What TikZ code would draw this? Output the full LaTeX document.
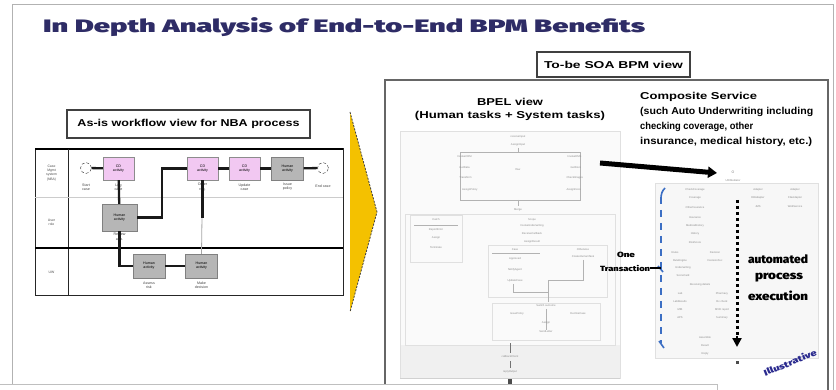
\documentclass[tikz,border=0pt]{standalone}
\usepackage{fontspec}
\usepackage{graphicx}
\setmainfont{Liberation Sans}
\newfontfamily\heavy{Fira Sans Black}
\newfontfamily\semiheavy{Liberation Sans Bold}
\usetikzlibrary{arrows.meta,calc}
\definecolor{titleblue}{HTML}{2E2C66}
\definecolor{pinkfill}{HTML}{F2C8F2}
\definecolor{grayfill}{HTML}{B6B6B6}
\definecolor{chevyellow}{HTML}{F4C100}
\definecolor{dashblue}{HTML}{3C6FC4}
\definecolor{stampblue}{HTML}{2A2A8E}
% stretch a line of text horizontally to a given width
\newcommand\fitw[2]{\resizebox{#1}{\height}{#2}}
\begin{document}
\begin{tikzpicture}[x=1pt,y=-1pt,
  frame/.style={draw=black!30, line width=1pt},
  labelbox/.style={draw=black!75, line width=1.2pt, fill=white, inner sep=0},
  caption/.style={inner sep=0, font=\fontsize{10}{12}\selectfont\semiheavy},
  heavytext/.style={inner sep=0, font=\heavy},
  tinytxt/.style={inner sep=0.3pt, font=\fontsize{3.6}{4.2}\selectfont, text=black!75, align=center},
  lanelbl/.style={inner sep=0.3pt, font=\fontsize{3.4}{4.2}\selectfont, text=black!70, align=center},
  cobox/.style={draw=black!45, fill=pinkfill, minimum width=31, minimum height=23, inner sep=0, font=\fontsize{3.6}{4.2}\selectfont, align=center},
  humbox/.style={draw=black!50, fill=grayfill, minimum width=32, minimum height=24, inner sep=0, font=\fontsize{3.6}{4.2}\selectfont, align=center},
  event/.style={circle, draw=black!80, densely dashed, fill=white, minimum size=11, inner sep=0},
  flow/.style={draw=black!90, line width=2.3pt},
  thinflow/.style={draw=black!35, line width=0.8pt},
  bt/.style={inner sep=0.3pt, font=\fontsize{2.7}{3.2}\selectfont, text=black!45},
  bline/.style={draw=black!30, line width=0.45pt},
  panel/.style={draw=black!12, line width=0.6pt}]
\useasboundingbox (0,0) rectangle (836,390);
\fill[white] (0,0) rectangle (836,390);

% slide frame
\draw[frame] (12,384) -- (12,5) -- (833,5) -- (833,392);

% title
\node[anchor=base west, inner sep=0, text=titleblue] (title) at (43,33)
  {\fitw{602pt}{\fontsize{18}{20}\selectfont\heavy In Depth Analysis of End-to-End BPM Benefits}};

% ---------------- as-is workflow ----------------
\node[labelbox, minimum width=243, minimum height=28] (asisbox) at (188.5,124) {};
\node[caption] (asis) at (asisbox.center) {\fitw{222pt}{As-is workflow view for NBA process}};

% swimlane grid
\draw[black!85, line width=1pt] (35,149) rectangle (343,296);
\draw[black, line width=1.8pt] (35,149) -- (343,149);
\draw[black!85, line width=1pt] (68,149) -- (68,296);
\draw[black!20, line width=0.8pt] (35,197) -- (343,197);
\draw[black, line width=1.5pt] (35,248) -- (343,248);

\node[lanelbl] (lane1) at (51.5,173) {Case\\ Mgmt\\ system\\ (NBA)};
\node[lanelbl] (lane2) at (51.5,222) {User\\ role};
\node[lanelbl] (lane3) at (51.5,272) {UW};

% lane 1
\node[event] (start) at (86,168) {};
\node[cobox] (co1) at (118.5,168.5) {CD\\ activity};
\node[cobox] (co2) at (202.5,168.5) {CD\\ activity};
\node[cobox] (co3) at (244.5,168.5) {CD\\ activity};
\node[humbox, minimum height=23] (hum0) at (287.5,168.5) {Human\\ activity};
\node[event] (stop) at (323,168) {};
% lane 2
\node[humbox, minimum width=35, minimum height=27] (hum1) at (119.5,217.5) {Human\\ activity};
% lane 3
\node[humbox] (hum2) at (149,266) {Human\\ activity};
\node[humbox] (hum3) at (201.5,266) {Human\\ activity};

% captions under the activities
\node[tinytxt] (cs) at (86,187) {Start\\ case};
\node[tinytxt] (c1) at (118.5,187) {Log\\ case};
\node[tinytxt] (c2) at (202.5,187) {Order\\ req.};
\node[tinytxt] (c3) at (244.5,187) {Update\\ case};
\node[tinytxt] (c4) at (287.5,187) {Issue\\ policy};
\node[tinytxt] (ce) at (323,186) {End case};
\node[tinytxt] (c5) at (119.5,237) {Review\\ app.};
\node[tinytxt] (c6) at (149,285.5) {Assess\\ risk};
\node[tinytxt] (c7) at (201.5,285.5) {Make\\ decision};

% connectors
\draw[flow] (start) -- (co1);
\draw[flow] (co1) -- (hum1);
\draw[flow] (hum1.east) -- ++(25,0) |- (co2.west);
\draw[flow] (co2) -- (co3);
\draw[flow] (co3) -- (hum0);
\draw[flow] (hum0) -- (stop);
\draw[flow] (hum1.south) |- (hum2.west);
\draw[flow] (hum2) -- (hum3);
\draw[thinflow] (hum3.north) -- (co2.south);
\coordinate (co2drop) at (202.5,218);
\draw[flow] (co2.south) -- (co2drop);

% ---------------- chevron ----------------
\fill[chevyellow] (350,112) -- (377,212) -- (350,312) -- cycle;
\draw[black!75, line width=0.8pt, dash pattern=on 2pt off 1.4pt] (350,112) -- (377,212) -- (350,312);

% ---------------- to-be view ----------------
\draw[black!60, line width=1.8pt] (385,80) rectangle (828,400);
\node[labelbox, minimum width=153, minimum height=25] (tobebox) at (613.5,64.5) {};
\node[caption] (tobe) at (tobebox.center) {\fitw{139pt}{To-be SOA BPM view}};

\node[caption] (bpelt1) at (510,102) {\fitw{66pt}{BPEL view}};
\node[caption] (bpelt2) at (510,115.5) {\fitw{190pt}{(Human tasks + System tasks)}};

\node[caption, anchor=west] (cs1) at (640,97) {\fitw{117pt}{Composite Service}};
\node[caption, anchor=west] (cs2) at (640,112) {\fitw{173pt}{(such Auto Underwriting including}};
\node[caption, anchor=west] (cs3) at (640,127) {\fitw{113pt}{checking coverage, other}};
\node[caption, anchor=west] (cs4) at (640,142) {\fitw{172pt}{insurance, medical history, etc.)}};

% BPEL process panel
\fill[black!2] (400,131) rectangle (620,378);
\fill[black!6] (400,345) rectangle (620,378);
\draw[panel] (400,131) rectangle (620,378);
\draw[black!18, line width=0.6pt] (400,378) -- (620,378);

\node[bt] (b0) at (518,137) {receiveInput};
\node[bt] (b1) at (518,145) {AssignInput};
\draw[bline] (518,148) -- (518,152);
\draw[bline] (460,152) rectangle (580,200);
\node[bt, anchor=east] (bl1) at (472,157) {InvokeCRM};
\node[bt, anchor=east] (bl2) at (470,168) {GetData};
\node[bt, anchor=east] (bl3) at (472,178) {Transform};
\node[bt, anchor=east] (bl4) at (478,190) {AssignPolicy};
\node[bt, anchor=west] (br1) at (567,157) {InvokeDMS};
\node[bt, anchor=west] (br2) at (570,168) {GetDocs};
\node[bt, anchor=west] (br3) at (566,178) {CheckImages};
\node[bt, anchor=west] (br4) at (566,190) {AssignDocs};
\node[bt] (bm) at (518,170) {flow};
\draw[bline] (518,200) -- (518,206);
\node[bt] (b2) at (518,210) {Merge};

\draw[panel] (405,214) rectangle (615,345);
\draw[panel] (410,215) rectangle (462,262);
\draw[bline] (414,225) -- (458,225);
\node[bt] (bx0) at (436,220) {Catch};
\node[bt] (bx1) at (436,230) {ReportError};
\node[bt] (bx2) at (436,238) {Assign};
\node[bt] (bx3) at (436,248) {Terminate};
\node[bt] (bc0) at (532,220) {Scope};
\node[bt] (bc1) at (532,226) {InvokeUnderwriting};
\node[bt] (bc2) at (532,234) {ReceiveCallback};
\node[bt] (bc3) at (532,242) {AssignResult};

\draw[panel] (488,245) rectangle (607,297);
\node[bt] (bs0) at (515,250) {Case};
\draw[bline] (492,253) -- (540,253);
\node[bt] (bs1) at (515,259) {Approved};
\node[bt] (bs2) at (515,270) {NotifyAgent};
\node[bt] (bs3) at (515,281) {UpdateCase};
\node[bt] (bs4) at (583,250) {Otherwise};
\node[bt] (bs5) at (583,257) {CreateHumanTask};
\draw[bline] (583,260) -- (583,280) -- (548,280) -- (548,302);
\draw[bline] (513,284) -- (513,292) -- (548,292);

\draw[panel] (492,303) rectangle (600,340);
\node[bt] (bl0) at (546,306) {Switch outcome};
\node[bt] (bq1) at (517,314) {IssuePolicy};
\node[bt] (bq2) at (578,314) {DeclineCase};
\draw[bline] (546,309) -- (546,330);
\node[bt] (bq3) at (546,323) {Assign};
\node[bt] (bq4) at (546,332) {SendLetter};
\draw[black!55, line width=0.6pt] (510,343) -- (510,353);
\node[bt] (bz1) at (510,357) {callbackClient};
\draw[black!55, line width=0.6pt] (510,361) -- (510,368);
\node[bt] (bz2) at (510,372) {replyOutput};

% composite service panel
\fill[black!3] (655,183) rectangle (818,358);
\draw[panel] (655,183) rectangle (818,358);
\node[bt, text=black!60] (m0) at (733,172) {$\circ$};
\node[bt] (m1) at (733,181) {UWMediator};
\node[bt] (ml1) at (695,190) {CheckCoverage};
\node[bt] (ml2) at (695,198) {Coverage};
\node[bt] (ml3) at (695,208) {OtherInsurance};
\node[bt] (ml4) at (695,218) {Insurance};
\node[bt] (ml5) at (695,226) {MedicalHistory};
\node[bt] (ml6) at (695,234) {History};
\node[bt] (ml7) at (695,243) {RiskScore};
\node[bt] (mr1) at (758,190) {Adapter};
\node[bt] (mr2) at (795,190) {Adapter};
\node[bt] (mr3) at (758,198) {DBAdapter};
\node[bt] (mr4) at (795,198) {FileAdapter};
\node[bt] (mr5) at (758,207) {JMS};
\node[bt] (mr6) at (795,207) {WebService};
\node[bt] (mm1) at (675,253) {Rules};
\node[bt] (mm2) at (715,253) {Decision};
\node[bt] (mm3) at (680,261) {RuleEngine};
\node[bt] (mm4) at (715,261) {DecisionSvc};
\node[bt] (mm5) at (683,268) {Underwriting};
\node[bt] (mm6) at (683,276) {ScoreCard};
\node[bt] (mm7) at (700,285) {Receiving details};
\node[bt] (mn1) at (680,294) {Lab};
\node[bt] (mn2) at (722,294) {Pharmacy};
\node[bt] (mn3) at (680,302) {LabResults};
\node[bt] (mn4) at (722,302) {Rx check};
\node[bt] (mn5) at (680,310) {MIB};
\node[bt] (mn6) at (722,310) {MVR report};
\node[bt] (mn7) at (680,318) {APS};
\node[bt] (mn8) at (722,318) {Summary};
\node[bt] (mb1) at (705,338) {Assemble};
\node[bt] (mb2) at (705,346) {Result};
\node[bt] (mb3) at (705,354) {Reply};

% blue transaction boundary
\coordinate (txtop) at (661,197);
\coordinate (txmid) at (661,268);
\coordinate (txbot) at (661,343);
\draw[dashblue, line width=2pt, dash pattern=on 7pt off 6pt] (txtop) -- (txbot);
\draw[dashblue, line width=1.6pt] (661,199) .. controls (661,194) and (662,191) .. (665,188);
\draw[dashblue, line width=1.6pt] (658,266) -- (663,272);
\draw[dashblue, line width=1.6pt] (659,341) -- (664,348);

% big arrow from BPEL to the composite service
\coordinate (bpelout) at (600,163);
\coordinate (csin) at (717,173);
\draw[black, line width=5pt, -{Triangle[length=9pt,width=11pt]}] (bpelout) -- (csin);

% one transaction label
\node[heavytext] (one) at (626,255) {\fitw{18pt}{\fontsize{7.5}{9}\selectfont One}};
\node[heavytext] (trans) at (625,268) {\fitw{50pt}{\fontsize{7.5}{9}\selectfont Transaction}};
\draw[black, line width=2.6pt] (trans.east) -- (txmid);

% automated execution arrow
\coordinate (dtop) at (737,200);
\coordinate (dend) at (737,336);
\coordinate (dtip) at (737,347);
\draw[black, line width=3pt, dash pattern=on 2.6pt off 3.4pt] (dtop) -- (dend);
\draw[black, line width=2.6pt, -{Triangle[length=9pt,width=9pt]}] (dend) -- (dtip);
\fill[black!70] (736,361) rectangle (738.5,364);

\node[heavytext] (auto1) at (778,259) {\fitw{60pt}{\fontsize{11.5}{13}\selectfont automated}};
\node[heavytext] (auto2) at (779,278) {\fitw{48pt}{\fontsize{11.5}{13}\selectfont process}};
\node[heavytext] (auto3) at (778,296) {\fitw{60pt}{\fontsize{11.5}{13}\selectfont execution}};

% illustrative stamp
\node[heavytext, text=stampblue, rotate=22] (ill) at (790,362.5) {\fitw{56pt}{\fontsize{8.5}{10}\selectfont Illustrative}};

% bottom strip
\fill[black!70] (508,379) rectangle (512,384);
\filldraw[fill=white, draw=black!25, line width=1pt] (-2,384) rectangle (717,396);
\end{tikzpicture}
\end{document}
